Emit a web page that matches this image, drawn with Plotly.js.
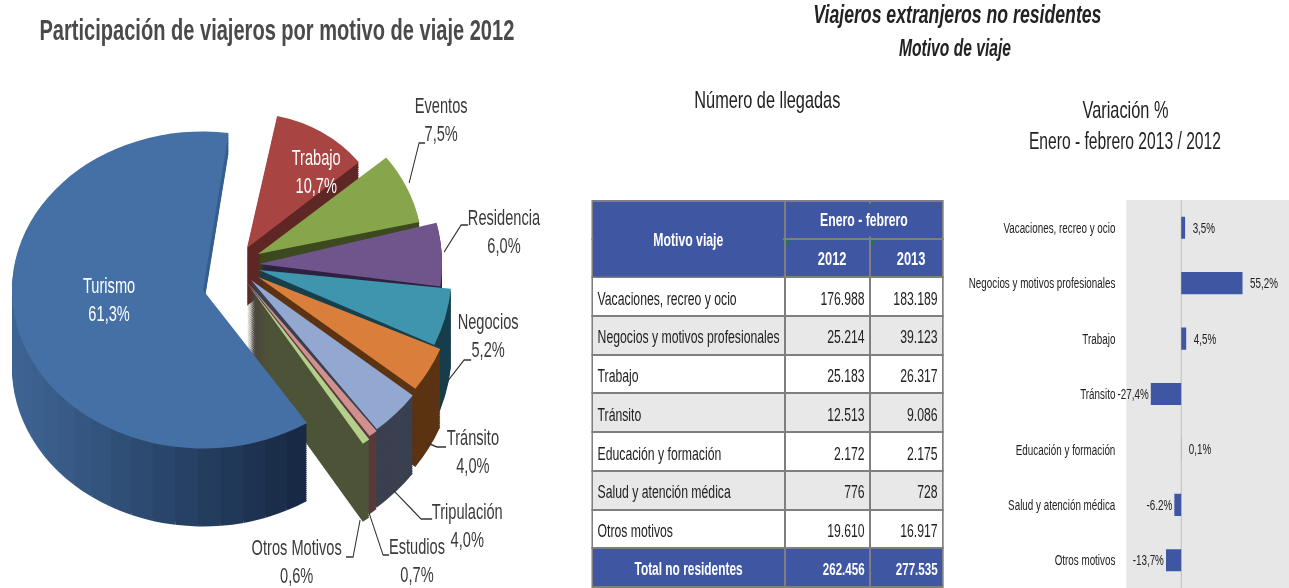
<!DOCTYPE html>
<html><head><meta charset="utf-8">
<script src="https://cdn.plot.ly/plotly-3.0.1.min.js"></script>
<style>
html,body{margin:0;padding:0;background:#fff;overflow:hidden;width:1289px;height:588px}
#pieRest{position:absolute;left:0;top:0;width:1289px;height:632px;transform:scaleY(.93);transform-origin:0 0;filter:blur(.5px)}
#pieTur{position:absolute;left:0;top:0;width:1289px;height:708px;transform:scaleY(.83);transform-origin:0 0;filter:blur(.5px)}
#main{position:absolute;left:0;top:0;width:1896px;height:588px;transform:scaleX(.68);transform-origin:0 0;filter:blur(.45px)}
#main .cell-text{transform:translateY(6px)}
</style></head><body>
<div id="pieRest"></div><div id="pieTur"></div><div id="main"></div>
<script>
const W = 1289, H = 588, MAINW = 1896, FONT = '"Liberation Sans",Arial,sans-serif', SQ = .68;

// pie data
const pieLabels = ['Turismo','Trabajo','Eventos','Residencia','Negocios','Tránsito','Tripulación','Estudios','Otros Motivos'];
const pieValues = [61.3,10.7,7.5,6.0,5.2,4.0,4.0,0.7,0.6];
const pieColors = ['#4470a5','#a84543','#87a64b','#70558c','#3f95ad','#d97f3b','#92a8d0','#cf908f','#b4cf8c'];
const wallColors = ['#2c4a72','#5f2725','#3d4a20','#2f2240','#173f4c','#5c3413','#3a4050','#5a3a3a','#4d5438'];

// table data
const motivos = ['Vacaciones, recreo y ocio','Negocios y motivos profesionales','Trabajo','Tránsito','Educación y formación','Salud y atención médica','Otros motivos','Total no residentes'];
const llegadas2012 = ['176.988','25.214','25.183','12.513','2.172','776','19.610','262.456'];
const llegadas2013 = ['183.189','39.123','26.317','9.086','2.175','728','16.917','277.535'];

// variation bars
const barCategories = ['Vacaciones, recreo y ocio','Negocios y motivos profesionales','Trabajo','Tránsito','Educación y formación','Salud y atención médica','Otros motivos'];
const barValues = [3.5,55.2,4.5,-27.4,0.1,-6.2,-13.7];
const barLabels = ['3,5%','55,2%','4,5%','-27,4%','0,1%','-6.2%','-13,7%'];

// ---------- pies (layered to give depth)
const STEP = 2, T = 'rgba(0,0,0,0)';
const base = {type:'pie', sort:false, direction:'clockwise', textinfo:'none', hoverinfo:'skip', showlegend:false};
const total = pieValues.reduce((a,b)=>a+b,0);
function mix(a,b,t){const p=s=>[1,3,5].map(i=>parseInt(s.substr(i,2),16));const A=p(a),B=p(b);return 'rgb('+A.map((v,i)=>Math.round(v+(B[i]-v)*t)).join(',')+')';}

// the eight smaller slices, each exploded on its own, painted back to front
const RH = 632, RS = .93;
const sliceStyle = [
  null,
  {cx:247,cy:248,r:145,start:12,depth:62},
  {cx:258,cy:254,r:165,start:51,depth:30},
  {cx:259,cy:264,r:183,start:76,depth:25},
  {cx:259,cy:270,r:193,start:96,depth:84},
  {cx:258,cy:277,r:198,start:113,depth:84},
  {cx:251,cy:280,r:204,start:127.5,depth:84},
  {cx:247,cy:282,r:206,start:141,depth:84},
  {cx:247,cy:283,r:208,start:144,depth:84}
];
function domR(cx, cy, r){ return {x:[(cx-r)/W,(cx+r)/W], y:[1-(cy+r)/RH,1-(cy-r)/RH]}; }
const restTraces = [];
let before = 0;
pieValues.forEach((v,i)=>{
  const st = sliceStyle[i];
  if (st){
    const rotation = st.start - before/total*360;
    const only = (list)=>list.map((c,k)=> k===i ? c : T);
    for (let d=st.depth; d>0; d-=STEP){
      restTraces.push({...base, rotation, values:pieValues, domain:domR(st.cx,st.cy/RS+d,st.r), marker:{colors:only(wallColors), line:{width:0}}});
    }
    restTraces.push({...base, rotation, values:pieValues, domain:domR(st.cx,st.cy/RS,st.r), marker:{colors:only(pieColors), line:{width:0}}});
  }
  before += v;
});
Plotly.newPlot('pieRest', restTraces, {width:W, height:RH, margin:{l:0,r:0,t:0,b:0,autoexpand:false}, paper_bgcolor:'rgba(0,0,0,0)'}, {staticPlot:true});

// Turismo, with its wall shaded from light to dark
const ROT_TUR = 147, PH = 708, S = .83, MAXD = 78;
function domT(cx, cy, r){ return {x:[(cx-r)/W,(cx+r)/W], y:[1-(cy+r)/PH,1-(cy-r)/PH]}; }
const turTraces = [];
const N = 32, parts = Array(N).fill(pieValues[0]/N).concat([total-pieValues[0]]);
for (let d=MAXD; d>0; d-=STEP){
  const cols = parts.map((v,i)=>{
    if (i===N) return T;
    const ang = ROT_TUR + (i+.5)*(pieValues[0]/N)/total*360;
    if (ang>300) return d>20 ? T : '#375f8f';
    const sx = Math.sin(ang*Math.PI/180);
    return mix('#3f6696','#182a45',Math.max(0,Math.min(1,(sx+1)/1.5)));
  });
  turTraces.push({...base, rotation:ROT_TUR, values:parts, domain:domT(203,290/S+d/S,191), marker:{colors:cols, line:{width:0}}});
}
turTraces.push({...base, rotation:ROT_TUR, values:pieValues, domain:domT(203,290/S,191),
  marker:{colors:pieColors.map((c,i)=> i===0 ? c : T), line:{width:0}}});
Plotly.newPlot('pieTur', turTraces, {width:W, height:PH, margin:{l:0,r:0,t:0,b:0,autoexpand:false}, paper_bgcolor:'rgba(0,0,0,0)'}, {staticPlot:true});

// ---------- everything else (drawn wide and squeezed, for the condensed lettering)
const px = x=>x/W, py = y=>1-y/H;
function txt(x,y,text,size,color,opt){
  return Object.assign({xref:'paper',yref:'paper',x:px(x),y:py(y),text,showarrow:false,xanchor:'center',yanchor:'middle',
    font:{family:FONT,size,color}}, opt||{});
}
const GR='#3a3a3a', BLUE='#3f57a3';
const annotations = [
  txt(277,30,'<b>Participación de viajeros por motivo de viaje 2012</b>',29.5,'#4a4a4a'),
  txt(957,14,'<b><i>Viajeros extranjeros no residentes</i></b>',26,'#222'),
  txt(955,48,'<b><i>Motivo de viaje</i></b>',23,'#222'),
  txt(767,100,'Número de llegadas',24,'#222'),
  txt(1125,110,'Variación %',24,'#222'),
  txt(1125,141,'Enero - febrero 2013 / 2012',23,'#222'),
  txt(109,300,'Turismo<br>61,3%',21.5,'#fff'),
  txt(316,172,'Trabajo<br>10,7%',21.5,'#fff'),
  txt(441,120,'Eventos<br>7,5%',21.5,GR),
  txt(504,232,'Residencia<br>6,0%',21.5,GR),
  txt(488,336,'Negocios<br>5,2%',21.5,GR),
  txt(473,452,'Tránsito<br>4,0%',21.5,GR),
  txt(467,526,'Tripulación<br>4,0%',21.5,GR),
  txt(417,561,'Estudios<br>0,7%',21.5,GR),
  txt(297,562,'Otros Motivos<br>0,6%',21.5,GR),
  txt(688,240,'<b>Motivo viaje</b>',18,'#fff',{bgcolor:BLUE,width:188/SQ,height:70}),
  txt(864,220,'<b>Enero - febrero</b>',18,'#fff',{bgcolor:BLUE,width:153/SQ,height:30})
];
const leaderPts = [
  [[409,183],[419,143],[425,143]],
  [[444,252],[461,225],[468,225]],
  [[443,387],[464,360],[471,360]],
  [[427,443],[437,447],[446,447]],
  [[394,491],[421,519],[432,519]],
  [[369,513],[383,555],[389,555]],
  [[360,520],[353,557],[346,557]]
];
const shapes = [
  {type:'rect',layer:'below',xref:'paper',yref:'paper',x0:px(1126),x1:px(1289),y0:py(588),y1:py(200),fillcolor:'#e7e7e7',line:{width:0}},
  ...leaderPts.map(p=>({type:'path',xref:'paper',yref:'paper',
     path:'M'+p.map(q=>px(q[0])+','+py(q[1])).join('L'),line:{color:'#333',width:1.5}})),
  ...[786,871].map(x=>({type:'path',xref:'paper',yref:'paper',fillcolor:'#0a8a1e',line:{width:0},
     path:`M${px(x)},${py(241)}L${px(x+4)},${py(241)}L${px(x)},${py(246)}Z`}))
];
const nb = s=>s.replace(/ /g,'\u00a0');
const rowFill = ['#ffffff','#e8e8e8','#ffffff','#e8e8e8','#ffffff','#e8e8e8','#ffffff',BLUE];
const rowFont = ['#222','#222','#222','#222','#222','#222','#222','#fff'];
const rowWeight = ['normal','normal','normal','normal','normal','normal','normal','bold'];
const table = {type:'table', domain:{x:[592/W,943/W],y:[0,1-201/H]}, columnwidth:[193,85,73],
  header:{values:[['',''],['','<b>2012</b>'],['','<b>2013</b>']],
    align:'center', height:38, fill:{color:BLUE}, line:{color:'#7f7f7f',width:2},
    font:{family:FONT,size:19,color:'#fff'}},
  cells:{values:[motivos.map(nb),llegadas2012,llegadas2013],
    align:[['left','left','left','left','left','left','left','center'],'right','right'], height:38.75,
    fill:{color:[rowFill,rowFill,rowFill]}, line:{color:'#7f7f7f',width:2},
    font:{family:FONT,size:[[18,18,18,18,18,18,18,17.5],[18,18,18,18,18,18,18,17],[18,18,18,18,18,18,18,17]],
      color:[rowFont,rowFont,rowFont],weight:[rowWeight,rowWeight,rowWeight]}}};
const bars = {type:'bar', orientation:'h', y:barCategories, x:barValues, width:.4,
  text:barLabels.map((t,i)=> barValues[i]>0 ? '\u00a0\u00a0'+t : t), textposition:'outside',
  textangle:0, cliponaxis:false, marker:{color:BLUE}, hoverinfo:'skip', showlegend:false,
  textfont:{family:FONT,size:14.5,color:'#222'}};
Plotly.newPlot('main',[table,bars],{width:MAINW,height:H,margin:{l:0,r:0,t:0,b:0,autoexpand:false},
  paper_bgcolor:'rgba(0,0,0,0)',plot_bgcolor:'rgba(0,0,0,0)',annotations,shapes,showlegend:false,
  xaxis:{domain:[1126/W,1],range:[-49.5,97.3],showticklabels:false,ticks:'',showgrid:false,showline:false,zeroline:true,zerolinecolor:'#bdbdbd',zerolinewidth:1.4},
  yaxis:{domain:[0,1-200/H],type:'category',autorange:'reversed',anchor:'x',side:'left',showgrid:false,zeroline:false,
    ticks:'',showline:false,tickfont:{family:FONT,size:14.5,color:'#222'},ticklabelstandoff:15,automargin:false}
},{staticPlot:true});
</script></body></html>
